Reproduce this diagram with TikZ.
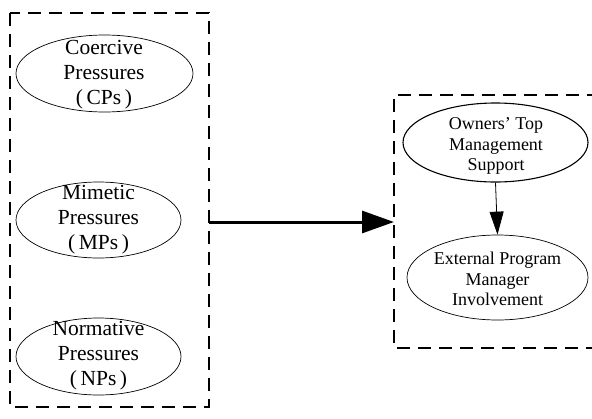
\documentclass[tikz,border=0pt]{standalone}
\usepackage{fontspec}
\setmainfont{Liberation Serif}
\usetikzlibrary{shapes.geometric,arrows.meta}
\tikzset{
  frame/.style={line width=2.6pt, dash pattern=on 13pt off 8pt},
  oval/.style={ellipse, draw, line width=0.7pt, inner sep=0pt},
  biglbl/.style={align=center, inner sep=0pt, font=\fontsize{21.5}{25}\selectfont},
  smalllbl/.style={align=center, inner sep=0pt, font=\fontsize{18}{20.5}\selectfont},
}
\begin{document}
\begin{tikzpicture}[x=1pt,y=-1pt]
\useasboundingbox (0,0) rectangle (592,418);
% left dashed frame
\draw[frame] (10,13) rectangle (209,407);
% right dashed frame (open to the right)
\draw[frame] (600,95) -- (394,95) -- (394,348) -- (600,348);

\node[oval, minimum width=177pt, minimum height=77pt] (cp) at (104.5,73.5) {};
\node[biglbl] (cpt) at (104,75) {Coercive\\Pressures\\(\,CPs\,)};
\node[oval, minimum width=165pt, minimum height=76pt] (mp) at (98.5,220) {};
\node[biglbl] (mpt) at (98.5,220) {Mimetic\\Pressures\\(\,MPs\,)};
\node[oval, minimum width=165pt, minimum height=77pt] (np) at (98.5,356.5) {};
\node[biglbl] (npt) at (98.5,356) {Normative\\Pressures\\(\,NPs\,)};

\node[oval, line width=1.1pt, minimum width=185pt, minimum height=79pt] (ow) at (495.5,142.5) {};
\node[smalllbl] (owt) at (496,146) {Owners’ Top\\Management\\Support};
\node[oval, minimum width=181pt, minimum height=85pt] (ex) at (497.5,277.5) {};
\node[smalllbl] (ext) at (497.5,279) {External Program\\Manager\\Involvement};

\coordinate (a1) at (209,222);
\coordinate (a2) at (394,222);
\draw[line width=3pt, -{Triangle[length=32pt,width=22pt]}] (a1) -- (a2);
\draw[line width=0.8pt, -{Triangle[length=23pt,width=14pt]}] (ow.south) -- (ex.north);
\end{tikzpicture}
\end{document}
